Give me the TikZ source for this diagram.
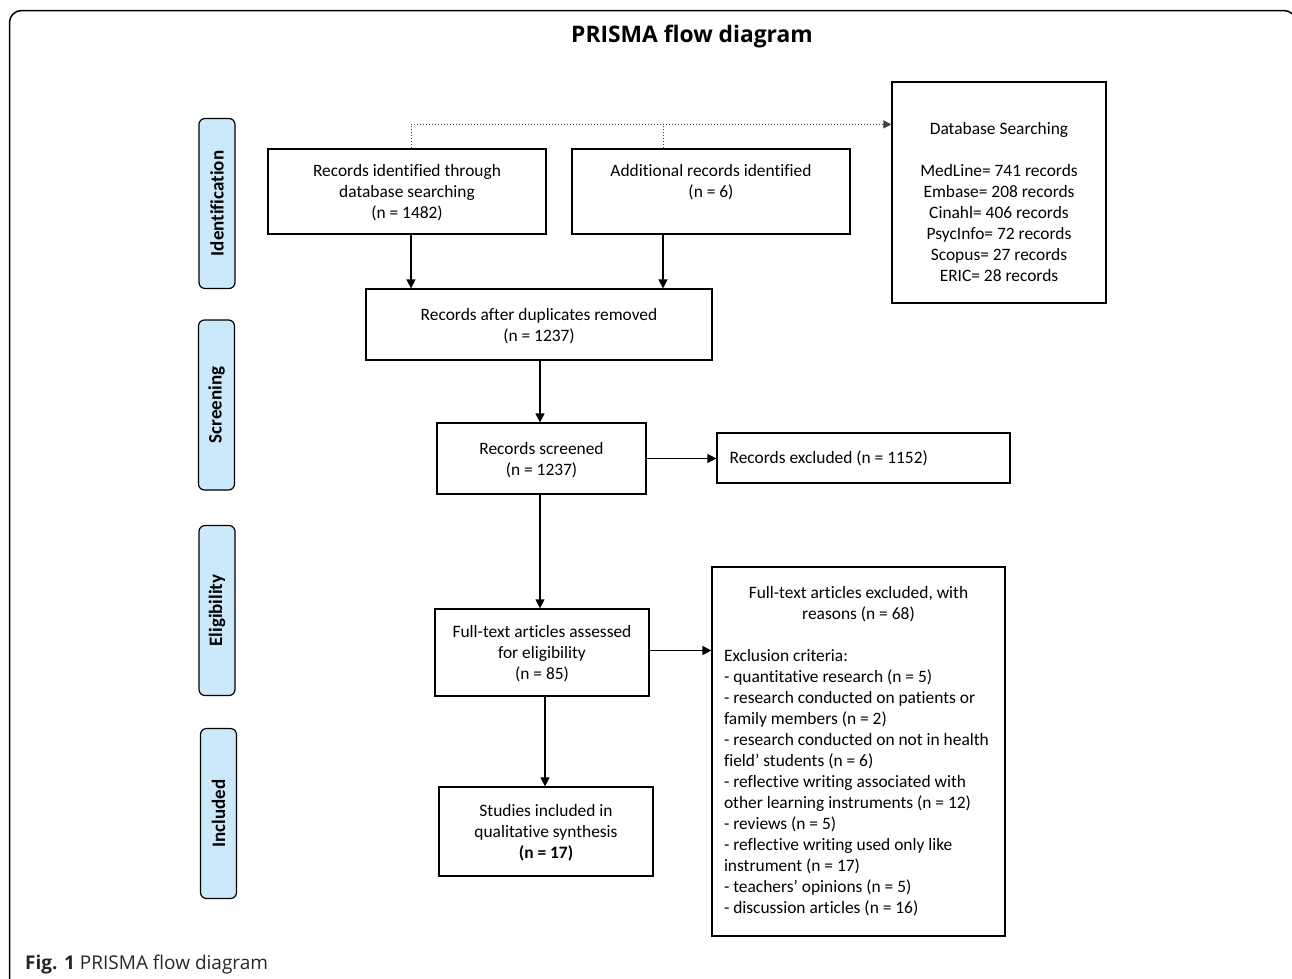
\documentclass[tikz,border=0pt]{standalone}
\usepackage{fontspec}
\setmainfont{Carlito}[Ligatures=NoCommon]
\newfontfamily\capfont{Open Sans}
\usetikzlibrary{arrows.meta}
\definecolor{phaseblue}{RGB}{204,233,251}
\begin{document}
\begin{tikzpicture}[x=1pt,y=-1pt,
  box/.style={draw=black, line width=1.2pt, rectangle, inner sep=0pt, align=center,
    text depth=0pt, font=\fontsize{17.4}{21}\selectfont},
  plain/.style={inner sep=0pt, align=center, font=\fontsize{17.4}{21}\selectfont},
  phase/.style={draw=black, line width=1.2pt, fill=phaseblue, rounded corners=6pt,
    rotate=90, minimum width=170pt, minimum height=36pt, inner sep=0pt,
    font=\fontsize{19}{22}\selectfont\bfseries},
  arr/.style={line width=1.2pt, -{Triangle[length=9pt,width=9pt]}},
  dotline/.style={line width=1pt, dotted, black!75},
]
\useasboundingbox (0,0) rectangle (1292,978);
\clip (0,0) rectangle (1292,978);
% outer frame
\draw[line width=1.5pt, rounded corners=12pt] (9.5,10.5) rectangle (1296,1000);
% title
\node[font=\fontsize{22.8}{26}\selectfont\capfont\bfseries] (title) at (692,37) {PRISMA flow diagram};
% phase labels
\node[phase] (ph1) at (217,203.5) {Identification};
\node[phase] (ph2) at (216.5,405) {Screening};
\node[phase] (ph3) at (217,610.5) {Eligibility};
\node[phase] (ph4) at (218.5,813.5) {Included};
% boxes
\node[box, minimum width=278pt, minimum height=85pt] (A) at (407,191.5)
  {Records identified through\\database searching\\(n = 1482)};
\node[box, minimum width=278pt, minimum height=85pt] (B) at (711,191.5)
  {Additional records identified\\(n = 6)\\\mbox{}};
\node[box, minimum width=214pt, minimum height=221pt] (DB) at (999,192.5) {};
\node[plain] (DBt) at (999,202)
  {Database Searching\\\mbox{}\\MedLine= 741 records\\Embase= 208 records\\Cinahl= 406 records\\PsycInfo= 72 records\\Scopus= 27 records\\ERIC= 28 records};
\node[box, minimum width=346pt, minimum height=71pt] (C) at (539,324.5)
  {Records after duplicates removed\\(n = 1237)};
\node[box, minimum width=209pt, minimum height=71pt] (D) at (541.5,458.5)
  {Records screened\\(n = 1237)};
\node[box, minimum width=293pt, minimum height=50pt] (E) at (863.5,458) {};
\node[plain, anchor=west] (Et) at ([xshift=13pt]E.west) {Records excluded (n = 1152)};
\node[box, minimum width=214pt, minimum height=87pt] (F) at (542,652.5)
  {Full-text articles assessed\\for eligibility\\(n = 85)};
\node[box, minimum width=293pt, minimum height=369pt, text depth=] (G) at (858.5,751.5)
  {\begin{minipage}{269pt}\fontsize{17.4}{21}\selectfont\centering
   Full-text articles excluded, with\\reasons (n = 68)\par
   \vspace{\baselineskip}\raggedright
   Exclusion criteria:\\
   - quantitative research (n = 5)\\
   - research conducted on patients or\\
   family members (n = 2)\\
   - research conducted on not in health\\
   field’ students (n = 6)\\
   - reflective writing associated with\\
   other learning instruments (n = 12)\\
   - reviews (n = 5)\\
   - reflective writing used only like\\
   instrument (n = 17)\\
   - teachers’ opinions (n = 5)\\
   - discussion articles (n = 16)\par
   \end{minipage}};
\node[box, minimum width=214pt, minimum height=89pt] (H) at (546,831.5)
  {Studies included in\\qualitative synthesis\\\textbf{(n = 17)}};
% connectors
\draw[arr] ([xshift=4pt]A.south) -- ([xshift=4pt]A.south |- C.north);
\draw[arr] ([xshift=-48pt]B.south) -- ([xshift=-48pt]B.south |- C.north);
\draw[dotline] ([xshift=4pt]A.north) -- ++(0,-24) coordinate (dj);
\draw[dotline, -{Triangle[length=8pt,width=8pt]}] (dj) -- (dj -| DB.west);
\draw[dotline] ([xshift=-48pt]B.north) -- ([xshift=-48pt]B.north |- dj);
\draw[arr] ([xshift=1pt]C.south) -- ([xshift=1pt]C.south |- D.north);
\draw[arr] (D.east) -- (D.east -| E.west);
\draw[arr] ([xshift=-1.5pt]D.south) -- ([xshift=-1.5pt]D.south |- F.north);
\draw[arr] ([yshift=2pt]F.east) -- ([yshift=2pt]F.east -| G.west);
\draw[arr] ([xshift=3pt]F.south) -- ([xshift=3pt]F.south |- H.north);
% caption
\node[anchor=base west, inner sep=0pt, text=black!85, font=\fontsize{19}{22}\selectfont\capfont] (cap) at (25,969)
  {\textbf{Fig. 1} PRISMA flow diagram};
\end{tikzpicture}
\end{document}
